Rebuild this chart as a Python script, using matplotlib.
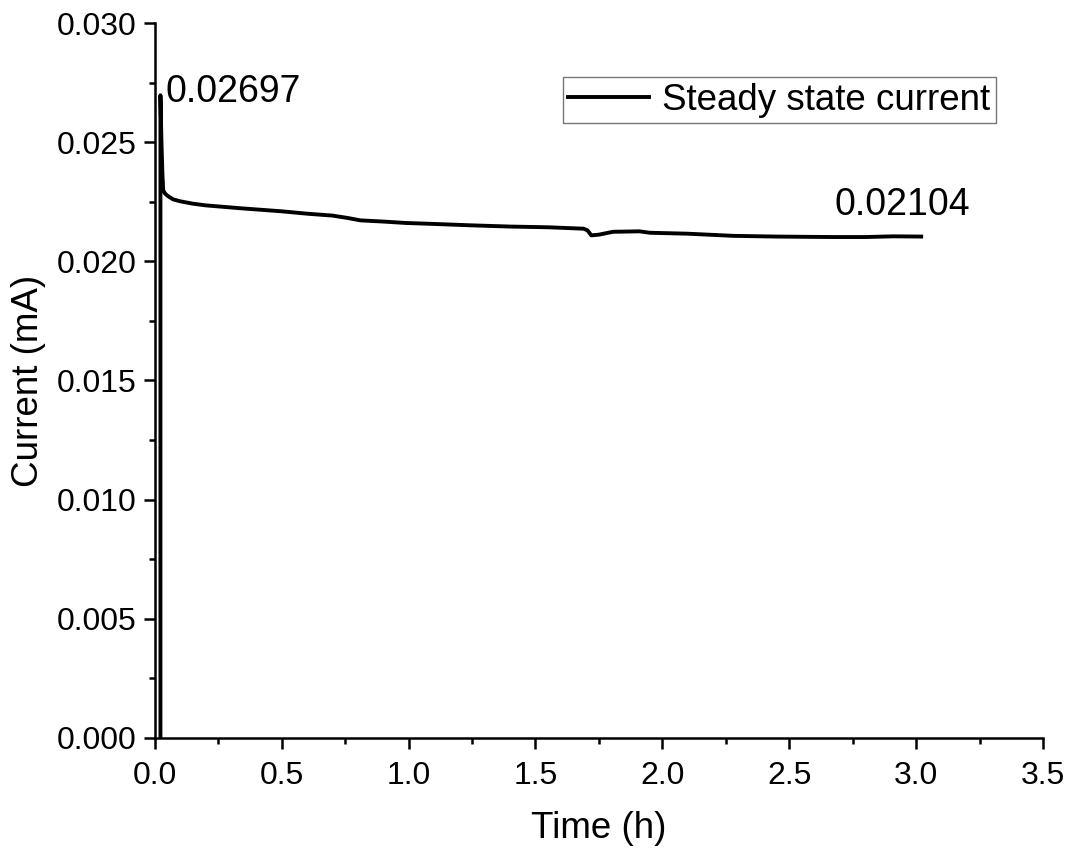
import numpy as np
import matplotlib.pyplot as plt
from matplotlib.ticker import MultipleLocator

plt.rcParams['font.family'] = ['Liberation Sans', 'DejaVu Sans']

# time (h) and current (mA)
time_h = [0.022, 0.022, 0.026, 0.030, 0.033, 0.040, 0.050, 0.072, 0.10, 0.15,
          0.20, 0.335, 0.50, 0.60, 0.70, 0.76, 0.81, 0.90, 0.99, 1.10, 1.25,
          1.40, 1.55, 1.69, 1.705, 1.72, 1.75, 1.805, 1.91, 1.95, 2.10, 2.28,
          2.45, 2.67, 2.80, 2.91, 3.02]
current_ma = [0.0, 0.02697, 0.0250, 0.0236, 0.02298, 0.02285, 0.02275, 0.02260,
              0.02252, 0.02242, 0.02235, 0.02223, 0.02210, 0.02200, 0.02192,
              0.02182, 0.02172, 0.02167, 0.02161, 0.02157, 0.02151, 0.02146,
              0.02143, 0.02137, 0.02130, 0.02109, 0.02112, 0.02124, 0.02126,
              0.02120, 0.02116, 0.02107, 0.02104, 0.02102, 0.02102, 0.02105,
              0.02104]

peak_label = "0.02697"
end_label = "0.02104"

fig = plt.figure(figsize=(10.68, 8.55), dpi=100)
ax = fig.add_axes([0.145, 0.137, 0.8316, 0.836])

ax.plot(time_h, current_ma, color="black", lw=2.8, label="Steady state current")

ax.set_xlim(0, 3.5)
ax.set_ylim(0, 0.030)
ax.xaxis.set_major_locator(MultipleLocator(0.5))
ax.xaxis.set_minor_locator(MultipleLocator(0.25))
ax.yaxis.set_major_locator(MultipleLocator(0.005))
ax.yaxis.set_minor_locator(MultipleLocator(0.0025))
ax.xaxis.set_major_formatter(plt.FuncFormatter(lambda v, p: f"{v:.1f}"))
ax.yaxis.set_major_formatter(plt.FuncFormatter(lambda v, p: f"{v:.3f}"))

for s in ["top", "right"]:
    ax.spines[s].set_visible(False)
for s in ["left", "bottom"]:
    ax.spines[s].set_linewidth(1.8)

ax.tick_params(which="major", direction="out", length=8, width=1.8, labelsize=23)
ax.tick_params(axis="x", which="major", pad=9)
ax.tick_params(axis="y", which="major", pad=5)
ax.tick_params(which="minor", direction="out", length=4.5, width=1.8)

ax.set_xlabel("Time (h)", fontsize=26.5, labelpad=14)
ax.set_ylabel("Current (mA)", fontsize=26.5, labelpad=8)

ax.text(0.04, 0.02712, peak_label, fontsize=27, ha="left", va="center")
ax.text(2.68, 0.02235, end_label, fontsize=27, ha="left", va="center")

leg = ax.legend(loc="upper right", bbox_to_anchor=(0.947, 0.924), fontsize=26.5,
                frameon=True, fancybox=False, handlelength=2.2,
                borderpad=0.15, handletextpad=0.35, borderaxespad=0)
leg.get_frame().set_edgecolor("#555555")
leg.get_frame().set_linewidth(1.0)

fig.savefig("out.png", dpi=100)
